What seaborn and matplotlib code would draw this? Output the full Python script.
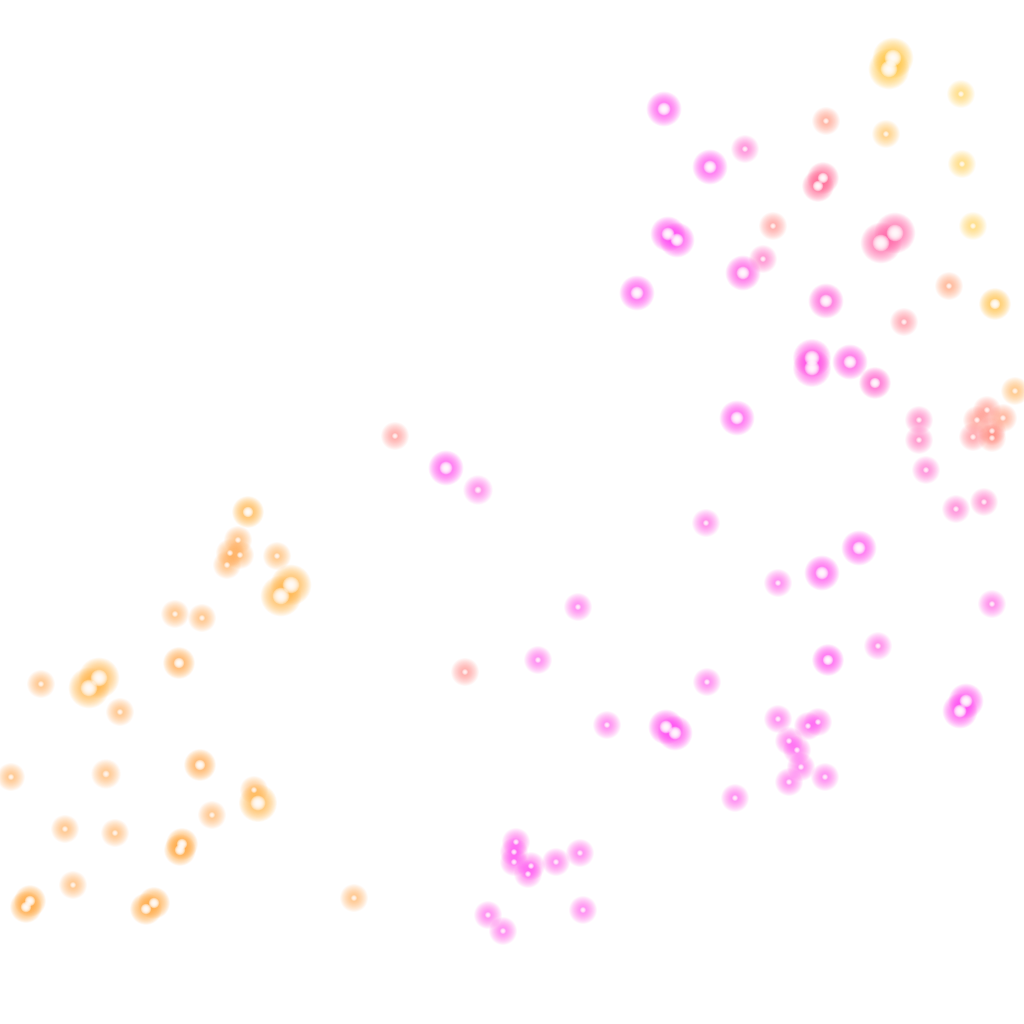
import numpy as np
import pandas as pd
import matplotlib
matplotlib.use("Agg")
import matplotlib.pyplot as plt
import seaborn as sns

# point positions (pixel-ish units, y grows downwards), colour value and glow strength
px = [893, 889, 961, 826, 886, 962, 745, 664, 710, 818, 823, 773, 973, 881, 895,
      668, 677, 763, 743, 637, 826, 949, 995, 904, 812, 812, 850, 875, 1015, 737,
      919, 919, 926, 987, 977, 1003, 973, 992, 992, 956, 984,
      395, 446, 478, 706, 859, 822, 778, 992, 578, 878, 828, 538, 465, 707,
      966, 960, 666, 675, 607, 778, 808, 818, 789, 797, 801, 789, 825, 735,
      516, 514, 514, 531, 528, 556, 580, 583, 488, 503, 354,
      248, 238, 230, 240, 227, 277, 281, 291, 175, 202, 179, 89, 99, 41, 120,
      11, 106, 200, 254, 258, 212, 65, 115, 180, 182, 73, 26, 30, 146, 154]
py = [58, 69, 94, 121, 134, 164, 149, 109, 167, 186, 178, 226, 226, 243, 233,
      234, 240, 259, 273, 293, 301, 286, 304, 322, 358, 368, 362, 383, 391, 418,
      420, 440, 470, 410, 420, 418, 437, 431, 438, 509, 502,
      436, 468, 490, 523, 548, 573, 583, 604, 607, 646, 660, 660, 672, 682,
      701, 711, 727, 733, 725, 719, 726, 722, 741, 750, 767, 782, 777, 798,
      842, 852, 862, 866, 874, 862, 853, 910, 915, 931, 898,
      512, 540, 553, 555, 565, 556, 596, 585, 614, 618, 663, 688, 678, 684, 712,
      777, 774, 765, 790, 803, 815, 829, 833, 850, 844, 885, 907, 901, 909, 903]
hue = [0.92, 0.92, 0.97, 0.55, 0.85, 0.97, 0.2, 0.05, 0.05, 0.4, 0.4, 0.5, 0.97, 0.35, 0.35,
       0.05, 0.05, 0.25, 0.1, 0.05, 0.15, 0.6, 0.88, 0.45, 0.1, 0.1, 0.1, 0.2, 0.75, 0.05,
       0.3, 0.3, 0.2, 0.52, 0.52, 0.57, 0.47, 0.52, 0.52, 0.2, 0.25,
       0.5, 0.05, 0.1, 0.1, 0.05, 0.05, 0.05, 0.1, 0.05, 0.1, 0.05, 0.05, 0.5, 0.05,
       0.05, 0.05, 0.05, 0.05, 0.05, 0.05, 0.05, 0.05, 0.05, 0.05, 0.05, 0.05, 0.05, 0.05,
       0.05, 0.05, 0.05, 0.05, 0.05, 0.05, 0.05, 0.05, 0.05, 0.05, 0.72,
       0.8, 0.72, 0.72, 0.72, 0.72, 0.75, 0.8, 0.8, 0.72, 0.72, 0.72, 0.8, 0.8, 0.72, 0.72,
       0.72, 0.72, 0.72, 0.75, 0.8, 0.72, 0.72, 0.72, 0.75, 0.75, 0.72, 0.75, 0.75, 0.75, 0.75]
glow = [3, 3, 1, 1, 1, 1, 1, 2, 2, 1.5, 1.5, 1, 1, 3, 3,
        2, 2, 1, 2, 2, 2, 1, 1.5, 1, 2.5, 2.5, 2, 1.5, 1, 2,
        1, 1, 1, 1, 1, 1, 1, 1, 1, 1, 1,
        1, 2, 1.2, 1, 2, 2, 1, 1, 1, 1, 1.5, 1, 1, 1,
        2, 2, 2, 2, 1, 1, 1, 1, 1, 1, 1, 1, 1, 1,
        1, 1, 1, 1, 1, 1, 1, 1, 1, 1, 1,
        1.5, 1, 1, 1, 1, 1, 3, 3, 1, 1, 1.5, 3, 3, 1, 1,
        1, 1.2, 1.5, 1, 2.5, 1, 1, 1, 1.5, 1.5, 1, 1.5, 1.5, 1.5, 1.5]

df = pd.DataFrame({"x": px, "y": py, "c": hue, "w": glow})
faint = df[df.w < 1.4]
bright = df[df.w >= 1.4]

glow_cmap = sns.blend_palette(["#ff40ff", "#ff5cac", "#ffa048", "#ffd43a"], as_cmap=True)

sns.set_style("white")
fig = plt.figure(figsize=(10.24, 10.24), dpi=100)
ax = fig.add_axes([0, 0, 1, 1])

# soft coloured halo: many faint layers, large to small
for part, a in [(faint, 0.04), (bright, 0.065)]:
    for r in np.linspace(14, 3, 20):
        d = 2 * r * 0.72
        sns.scatterplot(data=part, x="x", y="y", hue="c", palette=glow_cmap, hue_norm=(0, 1),
                        size="w", sizes=(d**2, (d * 1.45)**2), size_norm=(1, 3),
                        alpha=a, linewidth=0, legend=False, ax=ax)

# white hot core, graded
for part, rmax, a in [(faint, 3.0, 0.2), (bright, 3.6, 0.32)]:
    for r in np.linspace(rmax, 0.8, 8):
        d = 2 * r * 0.72
        sns.scatterplot(data=part, x="x", y="y", color="white",
                        size="w", sizes=(d**2, (d * 2.3)**2), size_norm=(1, 3),
                        alpha=a, linewidth=0, legend=False, ax=ax)

ax.set_xlim(0, 1024)
ax.set_ylim(1024, 0)
ax.axis("off")
fig.savefig("out.png", dpi=100, facecolor="white")
